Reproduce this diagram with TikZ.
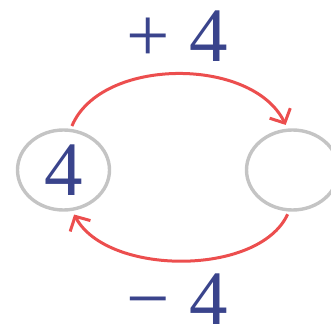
\documentclass[tikz,border=0pt]{standalone}
\usepackage{fontspec}
\setmainfont{Liberation Serif}
\usetikzlibrary{arrows.meta,shapes.geometric}
\definecolor{numblue}{RGB}{58,68,140}
\definecolor{arcred}{RGB}{236,78,78}
\definecolor{ringgray}{RGB}{196,196,196}
\tikzset{
  ring/.style={ellipse, draw=ringgray, line width=3.4pt, minimum width=92pt, minimum height=80pt, inner sep=0pt},
  bignum/.style={text=numblue, font=\fontsize{77}{77}\selectfont, inner sep=0pt, text depth=0pt, anchor=base},
  arc/.style={draw=arcred, line width=3pt, -{Straight Barb[length=11pt,width=23pt,line width=3pt]}}
}
\begin{document}
\begin{tikzpicture}[x=1pt,y=-1pt]
\useasboundingbox (0,0) rectangle (331,331);
\begin{scope}
\clip (0,0) rectangle (331,331);
\node[ring] (L) at (63.5,170) {};
\node[ring] (R) at (292.5,170) {};
\end{scope}
\node[bignum] (n) at (63.5,195) {4};
\node[bignum] (p) at (177,62) {+ 4};
\node[bignum] (m) at (177,324) {− 4};
\draw[arc, shorten <=3pt, shorten >=4pt] (L.80) .. controls +(30,-72) and +(-35,-72) .. (R.97);
\draw[arc, shorten <=3pt, shorten >=4pt] (R.265) .. controls +(-30,65) and +(35,65) .. (L.282);
\end{tikzpicture}
\end{document}
